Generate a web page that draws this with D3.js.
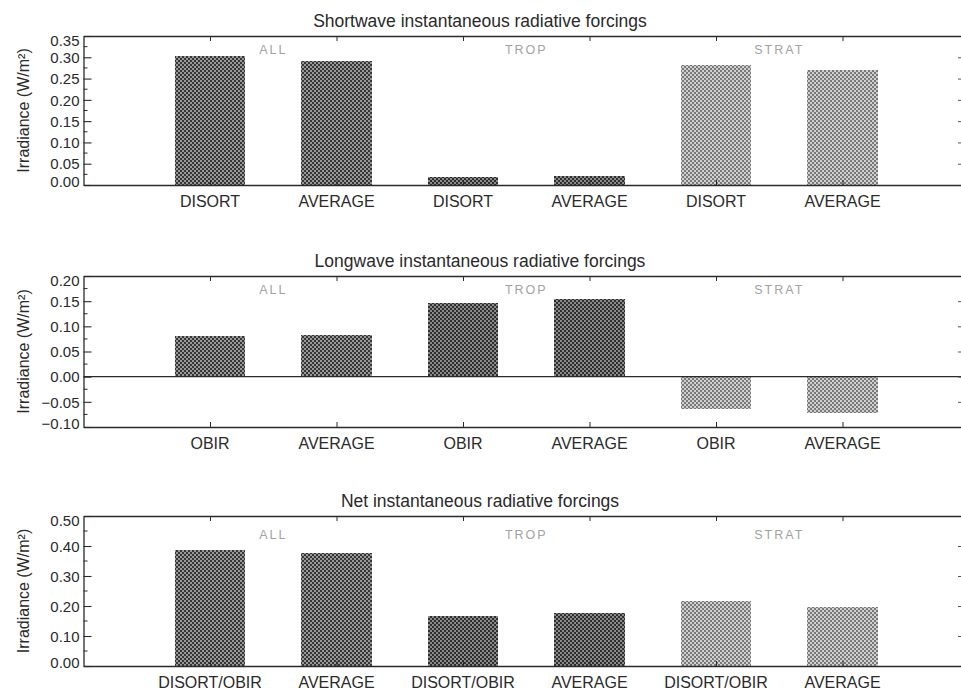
<!DOCTYPE html>
<html><head><meta charset="utf-8">
<script src="https://cdn.jsdelivr.net/npm/d3@7"></script>
<style>
body{margin:0;background:#fff}
svg{display:block;font-family:"Liberation Sans",Arial,Helvetica,sans-serif}
</style>
</head><body>
<svg id="c" width="961" height="693"></svg>
<script>
// ---------------- data ----------------
const groupNames = ["ALL", "TROP", "STRAT"];
const barGroups = ["ALL", "ALL", "TROP", "TROP", "STRAT", "STRAT"];
const swCategories = ["DISORT", "AVERAGE", "DISORT", "AVERAGE", "DISORT", "AVERAGE"];
const lwCategories = ["OBIR", "AVERAGE", "OBIR", "AVERAGE", "OBIR", "AVERAGE"];
const netCategories = ["DISORT/OBIR", "AVERAGE", "DISORT/OBIR", "AVERAGE", "DISORT/OBIR", "AVERAGE"];
const swValues = [0.303, 0.291, 0.019, 0.020, 0.282, 0.270];
const lwValues = [0.081, 0.083, 0.146, 0.154, -0.064, -0.072];
const netValues = [0.387, 0.377, 0.167, 0.177, 0.217, 0.197];
const swTicks = [0.00, 0.05, 0.10, 0.15, 0.20, 0.25, 0.30, 0.35];
const lwTicks = [-0.10, -0.05, 0.00, 0.05, 0.10, 0.15, 0.20];
const netTicks = [0.00, 0.10, 0.20, 0.30, 0.40, 0.50];
const titles = ["Shortwave instantaneous radiative forcings",
                "Longwave instantaneous radiative forcings",
                "Net instantaneous radiative forcings"];
const yLabel = "Irradiance (W/m\u00B2)";
const groupLabelY = [0.318, 0.172, 0.437]; // data units where ALL/TROP/STRAT sit

// ---------------- layout ----------------
const svg = d3.select("#c");
const left = 83.5, right = 969;
const panels = [
  {top: 36, bottom: 185, ticks: swTicks, values: swValues, cats: swCategories},
  {top: 276, bottom: 427, ticks: lwTicks, values: lwValues, cats: lwCategories},
  {top: 516, bottom: 666, ticks: netTicks, values: netValues, cats: netCategories}
];
const ink = "#2a2a2a";

// patterns
const defs = svg.append("defs");
function checker(id, dark, light) {
  const p = defs.append("pattern").attr("id", id).attr("patternUnits", "userSpaceOnUse")
    .attr("width", 4).attr("height", 4);
  p.append("rect").attr("width", 4).attr("height", 4).attr("fill", dark);
  p.append("rect").attr("x", 0).attr("y", 0).attr("width", 2).attr("height", 2).attr("fill", light);
  p.append("rect").attr("x", 2).attr("y", 2).attr("width", 2).attr("height", 2).attr("fill", light);
}
checker("pALL", "#373737", "#979797");
checker("pTROP", "#2e2e2e", "#8a8a8a");
checker("pSTRAT", "#7a7a7a", "#d0d0d0");

const x = d3.scaleLinear().domain([0, 7]).range([left, right]);
const barW = x(0.555) - x(0);

panels.forEach((P, pi) => {
  const g = svg.append("g");
  const ext = d3.extent(P.ticks);
  const y = d3.scaleLinear().domain(ext).range([P.bottom, P.top]);
  const step = P.ticks[1] - P.ticks[0];
  const minor = d3.range(ext[0] + step / 2, ext[1], step);

  // bars
  g.selectAll("rect.bar").data(P.values).join("rect")
    .attr("class", "bar")
    .attr("x", (d, i) => x(i + 1) - barW / 2)
    .attr("width", barW)
    .attr("y", d => y(Math.max(0, d)))
    .attr("height", d => Math.abs(y(d) - y(0)))
    .attr("fill", (d, i) => `url(#p${barGroups[i]})`)
    .attr("shape-rendering", "crispEdges");

  // zero line (when domain spans negative)
  if (ext[0] < 0) {
    g.append("line").attr("x1", left).attr("x2", right)
      .attr("y1", y(0)).attr("y2", y(0))
      .attr("stroke", ink).attr("stroke-width", 1.2);
  }

  // left axis
  const ax = d3.axisLeft(y).tickValues(P.ticks).tickSizeInner(-8).tickSizeOuter(0)
    .tickPadding(4).tickFormat(d3.format(".2f"));
  const ag = g.append("g").attr("transform", `translate(${left},0)`).call(ax);
  ag.attr("font-family", null).attr("font-size", null);
  ag.select(".domain").attr("stroke", ink).attr("stroke-width", 1.3);
  ag.selectAll(".tick line").attr("stroke", ink).attr("stroke-width", 1.1);
  ag.selectAll(".tick text").attr("fill", ink).attr("font-size", 15)
    .attr("dy", d => d === ext[1] ? "0.62em" : d === ext[0] ? "0.1em" : "0.35em");
  g.selectAll("line.minorL").data(minor).join("line").attr("class", "minorL")
    .attr("x1", left).attr("x2", left + 4).attr("y1", d => y(d)).attr("y2", d => y(d))
    .attr("stroke", ink).attr("stroke-width", 1);

  // right axis (partly outside the frame)
  const rx = d3.axisRight(y).tickValues(P.ticks).tickSizeInner(-11).tickSizeOuter(0).tickFormat("");
  const rg = g.append("g").attr("transform", `translate(${right},0)`).call(rx);
  rg.select(".domain").attr("stroke", ink);
  rg.selectAll(".tick line").attr("stroke", "#555").attr("stroke-width", 1);

  // top and bottom axes
  const catIdx = d3.range(1, 7);
  const bx = d3.axisBottom(x).tickValues(catIdx).tickSizeInner(-5).tickSizeOuter(0)
    .tickPadding(0).tickFormat("");
  const bg = g.append("g").attr("transform", `translate(0,${P.bottom})`).call(bx);
  bg.select(".domain").attr("stroke", ink).attr("stroke-width", 1.3);
  bg.selectAll(".tick line").attr("stroke", ink);
  const tx = d3.axisTop(x).tickValues(catIdx).tickSizeInner(-5).tickSizeOuter(0).tickFormat("");
  const tg = g.append("g").attr("transform", `translate(0,${P.top})`).call(tx);
  tg.select(".domain").attr("stroke", ink).attr("stroke-width", 1.3);
  tg.selectAll(".tick line").attr("stroke", ink);

  // category labels
  g.selectAll("text.cat").data(P.cats).join("text").attr("class", "cat")
    .attr("x", (d, i) => x(i + 1)).attr("y", P.bottom + 22)
    .attr("text-anchor", "middle").attr("font-size", 16).attr("fill", ink)
    .text(d => d);

  // group labels
  g.selectAll("text.grp").data(groupNames).join("text").attr("class", "grp")
    .attr("x", (d, i) => x(2 * i + 1.5)).attr("y", y(groupLabelY[pi]))
    .attr("dy", "0.35em")
    .attr("text-anchor", "middle").attr("font-size", 12.5).attr("letter-spacing", 2)
    .attr("fill", "#a2a2a2").text(d => d);

  // title
  g.append("text").attr("x", 480).attr("y", P.top - 9)
    .attr("text-anchor", "middle").attr("font-size", 17.5).attr("fill", ink)
    .text(titles[pi]);

  // y label
  g.append("text")
    .attr("transform", `translate(29,${(P.top + P.bottom) / 2}) rotate(-90)`)
    .attr("text-anchor", "middle").attr("font-size", 16).attr("fill", ink)
    .text(yLabel);
});
</script>
</body></html>
